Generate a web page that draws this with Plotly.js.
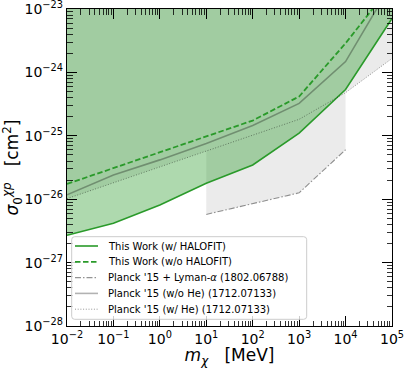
<!DOCTYPE html>
<html>
<head>
<meta charset="utf-8">
<script src="https://cdn.plot.ly/plotly-3.0.1.min.js"></script>
<style>
  html, body { margin: 0; padding: 0; background: #fff; }
  #chart { width: 407px; height: 368px; }
</style>
</head>
<body>
<div id="chart"></div>
<script>
/* ===== Data ===== */
// dark matter mass grid, MeV
const massGrid = [1e-2, 1e-1, 1, 10, 100, 1e3, 1e4, 1e5];

// sigma_0 limits, cm^2
const sigmaHalofit    = [2.69e-27, 4.17e-27, 8.13e-27, 1.78e-26, 3.47e-26, 1.10e-25, 5.37e-25, 7.08e-24];
const sigmaNoHalofit  = [1.74e-26, 3.09e-26, 5.50e-26, 1.00e-25, 1.74e-25, 4.17e-25, 2.88e-24, 2.45e-23];
const sigmaPlanckNoHe = [1.17e-26, 2.40e-26, 4.17e-26, 7.59e-26, 1.45e-25, 3.24e-25, 1.48e-24, 2.57e-23];
const sigmaPlanckHe   = [1.02e-26, 1.82e-26, 3.24e-26, 5.75e-26, 1.02e-25, 1.82e-25, 4.79e-25, 1.66e-24];

// Planck '15 + Lyman-alpha, only 10 MeV .. 10 GeV
const massLya  = [10, 100, 1e3, 1e4];
const sigmaLya = [5.75e-27, 8.51e-27, 1.26e-26, 6.03e-26];

const labels = [
    "This Work (w/ HALOFIT)",
    "This Work (w/o HALOFIT)",
    "Planck '15 + Lyman-<i>α</i> (1802.06788)",
    "Planck '15 (w/o He) (1712.07133)",
    "Planck '15 (w/ He) (1712.07133)"
];

const xDecades = [-2, -1, 0, 1, 2, 3, 4, 5];
const yDecades = [-28, -27, -26, -25, -24, -23];

/* ===== Helpers ===== */
const MINUS = "\u2212";
const dec = k => Number("1e" + k);   // exact power of ten

function powLabel(k) {
    return "10<sup>" + (k < 0 ? MINUS + Math.abs(k) : k) + "</sup>";
}
function minorVals(decades) {
    const out = [];
    for (let i = 0; i < decades.length - 1; i++) {
        for (let m = 2; m <= 9; m++) out.push(m * dec(decades[i]));
    }
    return out;
}
// closed region between a curve and the top of the axis
function regionAbove(xs, ys, yTop) {
    return {
        x: xs.concat([xs[xs.length - 1], xs[0]]),
        y: ys.concat([yTop, yTop])
    };
}

const yTop = dec(yDecades[yDecades.length - 1]);
const GREEN = "#2a9a2a";
const FONT = "DejaVu Sans";

/* ===== Traces ===== */
const heRegion  = regionAbove(massGrid, sigmaPlanckHe, yTop);
const lyaRegion = regionAbove(massLya, sigmaLya, yTop);
const ourRegion = regionAbove(massGrid, sigmaHalofit, yTop);

const fills = [
    { r: heRegion,  color: "#ebebeb" },
    { r: lyaRegion, color: "#ebebeb" },
    { r: ourRegion, color: "rgba(42,154,42,0.38)" }
].map(f => ({
    type: "scatter", mode: "none", fill: "toself",
    x: f.r.x, y: f.r.y, fillcolor: f.color,
    showlegend: false, hoverinfo: "skip"
}));

const lineStyles = [
    { color: GREEN, width: 1.6 },
    { color: GREEN, width: 1.8, dash: "5.5px,2.5px" },
    { color: "rgba(0,0,0,0.42)", width: 1.1, dash: "6px,2px,1.5px,2px" },
    { color: "rgba(0,0,0,0.3)", width: 1.6 },
    { color: "rgba(0,0,0,0.42)", width: 1, dash: "1px,1.7px" }
];
const series = [
    [massGrid, sigmaHalofit],
    [massGrid, sigmaNoHalofit],
    [massLya, sigmaLya],
    [massGrid, sigmaPlanckNoHe],
    [massGrid, sigmaPlanckHe]
];
const lines = series.map((s, i) => ({
    type: "scatter", mode: "lines",
    x: s[0], y: s[1], line: lineStyles[i], name: labels[i]
}));

/* ===== Legend (drawn by hand, matplotlib-like row spacing) ===== */
const W = 407, H = 368;
const M = { l: 67, r: 15, t: 9, b: 42 };
const plotW = W - M.l - M.r, plotH = H - M.t - M.b;
const px2x = px => (px - M.l) / plotW;
const px2y = py => (H - M.b - py) / plotH;

const box = { x0: 71.7, x1: 306.7, y0: 236.7, y1: 319.3, r: 3 };
const rowTop = 246, rowGap = 15.8;
const sampleX = [75, 98], textX = 106;

function roundedBox(b) {
    const X = px2x, Y = px2y, r = b.r;
    return "M" + X(b.x0 + r) + "," + Y(b.y0) +
        " L" + X(b.x1 - r) + "," + Y(b.y0) +
        " Q" + X(b.x1) + "," + Y(b.y0) + " " + X(b.x1) + "," + Y(b.y0 + r) +
        " L" + X(b.x1) + "," + Y(b.y1 - r) +
        " Q" + X(b.x1) + "," + Y(b.y1) + " " + X(b.x1 - r) + "," + Y(b.y1) +
        " L" + X(b.x0 + r) + "," + Y(b.y1) +
        " Q" + X(b.x0) + "," + Y(b.y1) + " " + X(b.x0) + "," + Y(b.y1 - r) +
        " L" + X(b.x0) + "," + Y(b.y0 + r) +
        " Q" + X(b.x0) + "," + Y(b.y0) + " " + X(b.x0 + r) + "," + Y(b.y0) + " Z";
}

const legendShapes = [{
    type: "path", xref: "paper", yref: "paper", layer: "above",
    path: roundedBox(box),
    fillcolor: "rgba(255,255,255,0.8)",
    line: { color: "#cccccc", width: 1 }
}].concat(lineStyles.map((ls, i) => ({
    type: "line", xref: "paper", yref: "paper", layer: "above",
    x0: px2x(sampleX[0]), x1: px2x(sampleX[1]),
    y0: px2y(rowTop + i * rowGap), y1: px2y(rowTop + i * rowGap),
    line: { color: ls.color, width: ls.width, dash: ls.dash || "solid" }
})));

const legendTexts = labels.map((t, i) => ({
    xref: "paper", yref: "paper", showarrow: false,
    x: px2x(textX), y: px2y(rowTop + i * rowGap),
    xanchor: "left", yanchor: "middle",
    text: t, font: { family: FONT, size: 10, color: "#000" }
}));

/* ===== Layout ===== */
const axisCommon = {
    type: "log",
    tickmode: "array",
    ticks: "inside", ticklen: 10, tickwidth: 1, tickcolor: "#000",
    mirror: "allticks", showline: true, linecolor: "#000", linewidth: 1.2,
    showgrid: false, zeroline: false,
    tickfont: { family: FONT, size: 14, color: "#000" },
    ticklabeloverflow: "allow",
    automargin: false
};

const layout = {
    width: W, height: H,
    margin: { l: M.l, r: M.r, t: M.t, b: M.b, pad: 0 },
    paper_bgcolor: "#fff", plot_bgcolor: "#fff",
    font: { family: FONT, color: "#000" },
    showlegend: false,
    xaxis: Object.assign({}, axisCommon, {
        range: [xDecades[0], xDecades[xDecades.length - 1]],
        tickvals: xDecades.map(dec),
        ticktext: xDecades.map(powLabel),
        minor: { tickmode: "array", tickvals: minorVals(xDecades), ticks: "inside",
                 ticklen: 5.5, tickwidth: 0.8, tickcolor: "#000", showgrid: false },
        title: { text: "<i>m</i><sub><i>χ</i></sub>\u00a0\u00a0\u00a0[MeV]",
                 font: { family: FONT, size: 17, color: "#000" }, standoff: 2 }
    }),
    yaxis: Object.assign({}, axisCommon, {
        range: [yDecades[0], yDecades[yDecades.length - 1]],
        tickvals: yDecades.map(dec),
        ticktext: yDecades.map(powLabel),
        minor: { tickmode: "array", tickvals: minorVals(yDecades), ticks: "inside",
                 ticklen: 5.5, tickwidth: 0.8, tickcolor: "#000", showgrid: false },
        title: { text: "<i>σ</i><sub>0</sub><sup><i>χp</i></sup>\u00a0\u00a0\u00a0[cm<sup>2</sup>]",
                 font: { family: FONT, size: 17, color: "#000" }, standoff: 4 }
    }),
    shapes: legendShapes,
    annotations: legendTexts
};

Plotly.newPlot("chart", fills.concat(lines), layout, { displayModeBar: false, staticPlot: true });
</script>
</body>
</html>
